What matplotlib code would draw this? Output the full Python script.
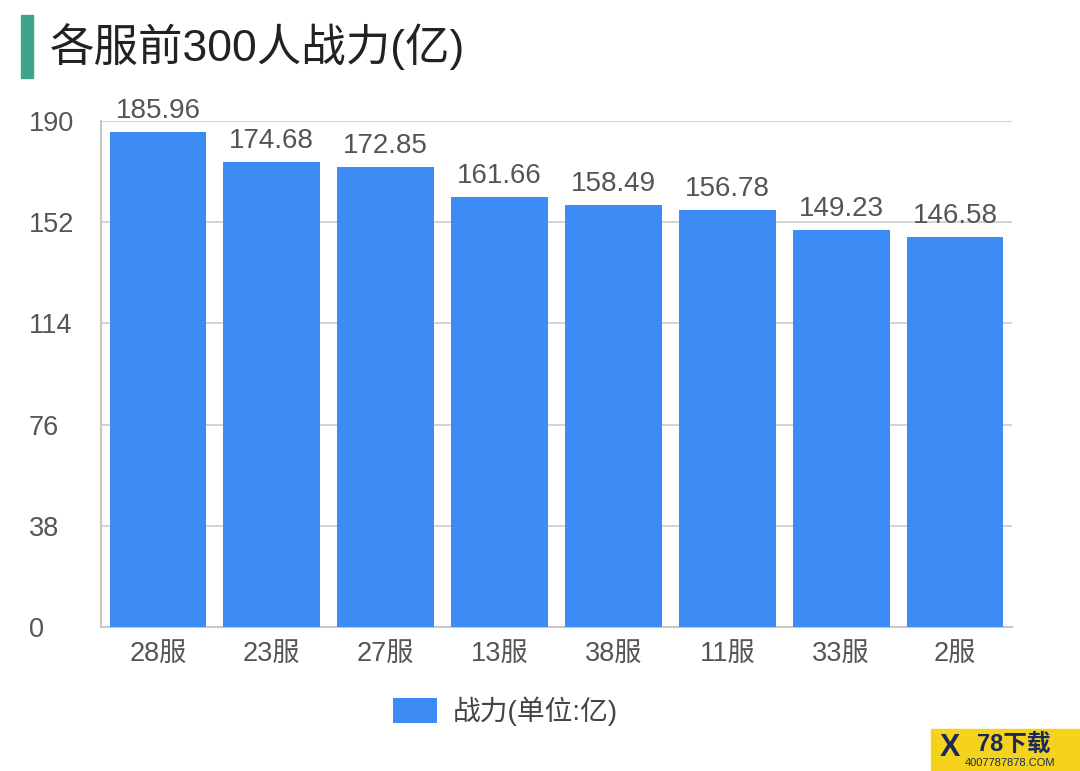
import matplotlib
matplotlib.use("Agg")
import matplotlib.pyplot as plt
from matplotlib.patches import Rectangle

plt.rcParams['font.family'] = ['Liberation Sans', 'Noto Sans CJK SC', 'DejaVu Sans']

categories = ['28服', '23服', '27服', '13服', '38服', '11服', '33服', '2服']
values = [185.96, 174.68, 172.85, 161.66, 158.49, 156.78, 149.23, 146.58]
yticks = [0, 38, 76, 114, 152, 190]
title = '各服前300人战力(亿)'
legend_label = '战力(单位:亿)'

bar_color = '#3d8cf6'
text_gray = '#555555'
grid_gray = '#cccccc'

fig = plt.figure(figsize=(10.8, 7.71), dpi=100)
ax = fig.add_axes([0.0935, 0.1868, 0.8435, 0.6562])

x = list(range(len(categories)))
bars = ax.bar(x, values, width=0.85, color=bar_color, zorder=3, label=legend_label)
ax.set_xlim(-0.5, len(categories) - 0.5)
ax.set_ylim(0, 190)
ax.set_yticks(yticks)
ax.set_yticklabels([str(t) for t in yticks], fontsize=19.5, color=text_gray, ha='left')
ax.set_xticks(x)
ax.set_xticklabels(categories, fontsize=19.5, color=text_gray)
ax.tick_params(axis='both', length=0)
ax.tick_params(axis='y', pad=52)
ax.tick_params(axis='x', pad=10)
ax.grid(axis='y', color=grid_gray, linewidth=1.2, zorder=0)
for s in ['top', 'right']:
    ax.spines[s].set_visible(False)
for s in ['left', 'bottom']:
    ax.spines[s].set_color('#c8c8c8')
    ax.spines[s].set_linewidth(1.5)

for xi, v in zip(x, values):
    ax.text(xi, v + 3.0, f'{v:.2f}', ha='center', va='bottom', fontsize=20, color=text_gray, zorder=4)

leg = fig.legend(handles=[bars], labels=[legend_label], loc='center', bbox_to_anchor=(0.468, 0.078),
                 frameon=False, fontsize=20, handlelength=1.6, handleheight=1.0, handletextpad=0.55)
for t in leg.get_texts():
    t.set_color('#444444')

# title with green accent bar
fig.patches.append(Rectangle((0.019, 0.899), 0.012, 0.082, transform=fig.transFigure,
                             color='#3fa58a', zorder=5))
fig.text(0.046, 0.94, title, fontsize=32, color='#222222', va='center', ha='left')

# watermark
fig.patches.append(Rectangle((0.862, 0.0), 0.138, 0.055, transform=fig.transFigure,
                             color='#f5d31c', zorder=5))
fig.text(0.87, 0.03, 'X', fontsize=22, fontweight='bold', color='#1a2a5a', va='center', ha='left', zorder=6)
fig.text(0.905, 0.035, '78下载', fontsize=17, fontweight='bold', color='#1a2a5a', va='center', ha='left', zorder=6)
fig.text(0.893, 0.01, '4007787878.COM', fontsize=8, color='#1a2a5a', va='center', ha='left', zorder=6)

fig.savefig('out.png', dpi=100, facecolor='white')
